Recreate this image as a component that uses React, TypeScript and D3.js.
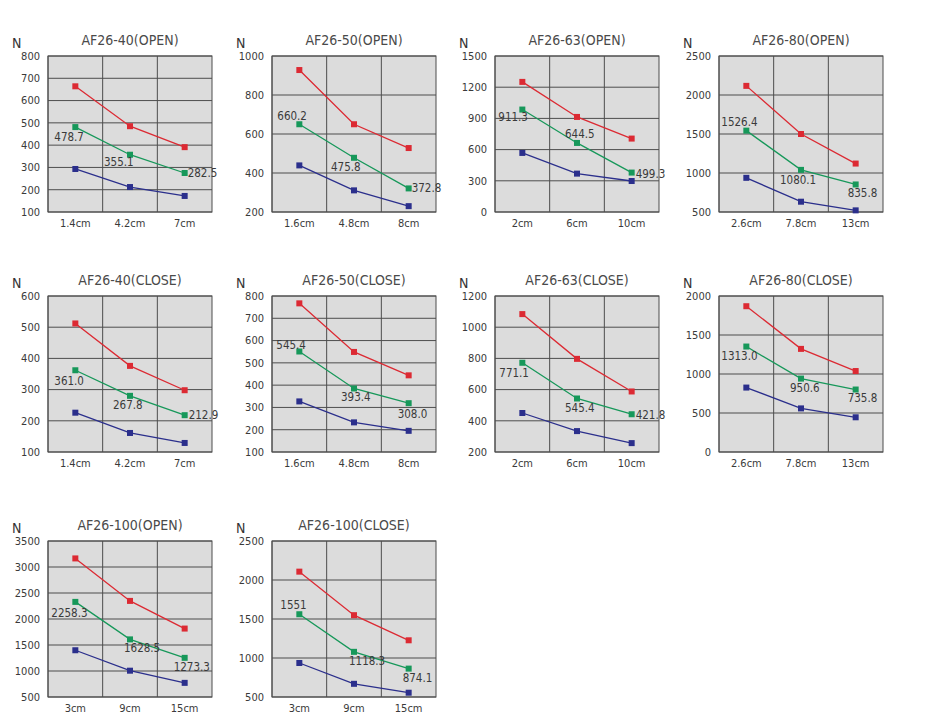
import React from "react";
import * as d3 from "d3";

// chart values
const titles = [
  "AF26-40(OPEN)",
  "AF26-50(OPEN)",
  "AF26-63(OPEN)",
  "AF26-80(OPEN)",
  "AF26-40(CLOSE)",
  "AF26-50(CLOSE)",
  "AF26-63(CLOSE)",
  "AF26-80(CLOSE)",
  "AF26-100(OPEN)",
  "AF26-100(CLOSE)",
];

const xLabels = [
  ["1.4cm", "4.2cm", "7cm"],
  ["1.6cm", "4.8cm", "8cm"],
  ["2cm", "6cm", "10cm"],
  ["2.6cm", "7.8cm", "13cm"],
  ["1.4cm", "4.2cm", "7cm"],
  ["1.6cm", "4.8cm", "8cm"],
  ["2cm", "6cm", "10cm"],
  ["2.6cm", "7.8cm", "13cm"],
  ["3cm", "9cm", "15cm"],
  ["3cm", "9cm", "15cm"],
];

const yDomains: [number, number][] = [
  [100, 800],
  [200, 1000],
  [0, 1500],
  [500, 2500],
  [100, 600],
  [100, 800],
  [200, 1200],
  [0, 2000],
  [500, 3500],
  [500, 2500],
];

const yTickSteps = [100, 200, 300, 500, 100, 100, 200, 500, 500, 500];

const redSeries = [
  [664, 485, 391],
  [928, 650, 528],
  [1251, 914, 706],
  [2117, 1500, 1121],
  [512, 376, 298],
  [767, 549, 444],
  [1084, 797, 588],
  [1869, 1322, 1038],
  [3165, 2348, 1816],
  [2107, 1549, 1227],
];

const greenSeries = [
  [481, 357, 275],
  [650, 478, 321],
  [985, 664, 379],
  [1543, 1040, 853],
  [362, 280, 218],
  [551, 385, 319],
  [772, 543, 442],
  [1352, 941, 801],
  [2329, 1608, 1253],
  [1561, 1079, 864],
];

const blueSeries = [
  [293, 212, 172],
  [439, 311, 230],
  [568, 369, 298],
  [938, 632, 521],
  [226, 161, 129],
  [327, 233, 195],
  [450, 334, 257],
  [826, 559, 445],
  [1399, 1006, 772],
  [936, 669, 555],
];

const greenLabels = [
  ["478.7", "355.1", "282.5"],
  ["660.2", "475.8", "372.8"],
  ["911.3", "644.5", "499.3"],
  ["1526.4", "1080.1", "835.8"],
  ["361.0", "267.8", "212.9"],
  ["545.4", "393.4", "308.0"],
  ["771.1", "545.4", "421.8"],
  ["1313.0", "950.6", "735.8"],
  ["2258.3", "1628.5", "1273.3"],
  ["1551", "1118.3", "874.1"],
];

// left edge / baseline of each value label relative to its green point (px)
const labelOffsets = [
  [[-21, 14], [-26, 11], [3, 4]],
  [[-22, -4], [-23, 13], [3, 4]],
  [[-24, 11], [-12, -5], [4, 5]],
  [[-25, -5], [-21, 14], [-8, 13]],
  [[-21, 15], [-17, 13], [4, 4]],
  [[-23, -2], [-13, 13], [-11, 15]],
  [[-23, 14], [-12, 14], [4, 5]],
  [[-25, 13], [-11, 13], [-8, 12]],
  [[-24, 15], [-6, 13], [-11, 13]],
  [[-19, -5], [-5, 13], [-6, 13]],
];

const colLefts = [48, 272, 495, 719];
const rowTops = [56, 296, 541];
const plotW = 164;
const plotH = 156;

const RED = "#dc2a33";
const GREEN = "#17985a";
const BLUE = "#2b2f8c";
const FONT = "'DejaVu Sans Condensed', 'DejaVu Sans', sans-serif";

interface PanelProps {
  i: number;
  left: number;
  top: number;
}

const Panel: React.FC<PanelProps> = ({ i, left, top }) => {
  const x = d3
    .scaleBand<string>()
    .domain(xLabels[i])
    .range([left, left + plotW]);
  const [y0, y1] = yDomains[i];
  const y = d3.scaleLinear().domain([y0, y1]).range([top + plotH, top]);
  const ticks = d3.range(y0, y1 + 1, yTickSteps[i]);
  const cx = (k: number) => (x(xLabels[i][k]) ?? 0) + x.bandwidth() / 2;

  const line = (vals: number[]) =>
    d3
      .line<number>()
      .x((_, k) => cx(k))
      .y((d) => y(d))(vals) ?? "";

  const series = [
    { vals: redSeries[i], color: RED },
    { vals: greenSeries[i], color: GREEN },
    { vals: blueSeries[i], color: BLUE },
  ];

  return (
    <g fontFamily={FONT}>
      <rect x={left} y={top} width={plotW} height={plotH} fill="#dcdcdc" />
      {ticks.map((t) => (
        <line
          key={"h" + t}
          x1={left}
          x2={left + plotW}
          y1={y(t)}
          y2={y(t)}
          stroke="#4d4d4d"
          strokeWidth={1}
        />
      ))}
      {xLabels[i].map((lab) => (
        <line
          key={"v" + lab}
          x1={x(lab) ?? 0}
          x2={x(lab) ?? 0}
          y1={top}
          y2={top + plotH}
          stroke="#4d4d4d"
          strokeWidth={1}
        />
      ))}
      <rect
        x={left}
        y={top}
        width={plotW}
        height={plotH}
        fill="none"
        stroke="#4d4d4d"
        strokeWidth={1}
      />
      {ticks.map((t) => (
        <text
          key={"t" + t}
          x={left - 8}
          y={y(t)}
          dy="0.35em"
          textAnchor="end"
          fontSize={11}
          fill="#3a3a3a"
        >
          {t}
        </text>
      ))}
      {xLabels[i].map((lab, k) => (
        <text
          key={"x" + lab}
          x={cx(k)}
          y={top + plotH + 15}
          textAnchor="middle"
          fontSize={11}
          fill="#3a3a3a"
        >
          {lab}
        </text>
      ))}
      <text
        x={left + plotW / 2}
        y={top - 11}
        textAnchor="middle"
        fontSize={14}
        fill="#4a4a4a"
      >
        {titles[i]}
      </text>
      <text x={left - 36} y={top - 8} fontSize={14} fill="#333">
        N
      </text>
      {series.map((s, si) => (
        <g key={si}>
          <path d={line(s.vals)} fill="none" stroke={s.color} strokeWidth={1.3} />
          {s.vals.map((v, k) => (
            <rect
              key={k}
              x={cx(k) - 3}
              y={y(v) - 3}
              width={6}
              height={6}
              fill={s.color}
            />
          ))}
        </g>
      ))}
      {greenLabels[i].map((lab, k) => (
        <text
          key={"g" + k}
          x={cx(k) + labelOffsets[i][k][0]}
          y={y(greenSeries[i][k]) + labelOffsets[i][k][1]}
          textAnchor="start"
          fontSize={11.5}
          fill="#3a3a3a"
        >
          {lab}
        </text>
      ))}
    </g>
  );
};

export default function App() {
  return (
    <svg
      width={931}
      height={727}
      style={{ position: "absolute", left: 0, top: 0, background: "#fff" }}
    >
      {titles.map((_, i) => (
        <Panel
          key={i}
          i={i}
          left={colLefts[i % 4]}
          top={rowTops[Math.floor(i / 4)]}
        />
      ))}
    </svg>
  );
}
